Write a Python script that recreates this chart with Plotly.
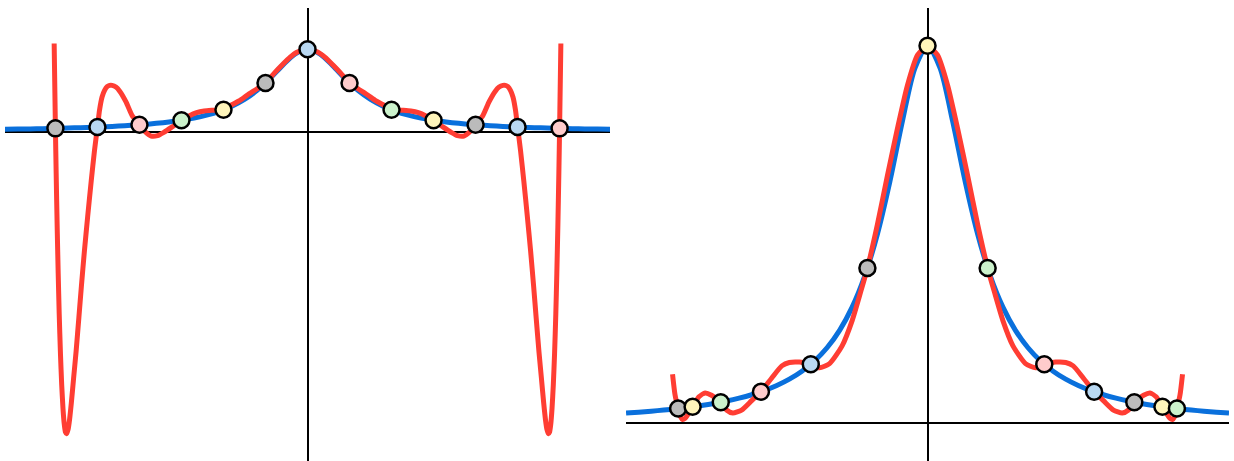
import plotly.graph_objects as go

# Runge function curve (blue)
runge_x = [-1.2, -1.15, -1.1, -1.05, -1.0, -0.95, -0.9, -0.85, -0.8, -0.75, -0.7, -0.65, -0.6,
           -0.55, -0.5, -0.45, -0.4, -0.35, -0.3, -0.25, -0.2, -0.15, -0.1, -0.05, 0.0,
           0.05, 0.1, 0.15, 0.2, 0.25, 0.3, 0.35, 0.4, 0.45, 0.5, 0.55, 0.6, 0.65, 0.7,
           0.75, 0.8, 0.85, 0.9, 0.95, 1.0, 1.05, 1.1, 1.15, 1.2]
runge_y = [0.027, 0.0294, 0.032, 0.035, 0.0385, 0.0424, 0.0471, 0.0525, 0.0588, 0.0664, 0.0755,
           0.0865, 0.1, 0.1168, 0.1379, 0.165, 0.2, 0.2462, 0.3077, 0.39, 0.5, 0.64, 0.8, 0.941,
           1.0, 0.941, 0.8, 0.64, 0.5, 0.39, 0.3077, 0.2462, 0.2, 0.165, 0.1379, 0.1168, 0.1,
           0.0865, 0.0755, 0.0664, 0.0588, 0.0525, 0.0471, 0.0424, 0.0385, 0.035, 0.032, 0.0294, 0.027]

# Left panel: equispaced nodes and interpolant (red)
equi_x = [-1.0, -0.8333, -0.6667, -0.5, -0.3333, -0.1667, 0.0, 0.1667, 0.3333, 0.5, 0.6667, 0.8333, 1.0]
equi_y = [0.0385, 0.0545, 0.0826, 0.1379, 0.2647, 0.5902, 1.0, 0.5902, 0.2647, 0.1379, 0.0826, 0.0545, 0.0385]
equi_colors = ["#bbbbbb", "#b9d8f2", "#ffcccc", "#ccf2cc", "#fff5bb", "#bbbbbb", "#b9d8f2",
               "#ffcccc", "#ccf2cc", "#fff5bb", "#bbbbbb", "#b9d8f2", "#ffcccc"]

equi_poly_x = [-1.005, -1.0, -0.997, -0.993, -0.989, -0.985, -0.98, -0.975, -0.97, -0.965, -0.96, -0.956,
               -0.95, -0.944, -0.937, -0.928, -0.918, -0.907, -0.897, -0.885, -0.872, -0.858, -0.845,
               -0.8333, -0.825, -0.815, -0.805, -0.795, -0.785, -0.775, -0.76, -0.745, -0.72, -0.695,
               -0.6667, -0.645, -0.62, -0.595, -0.57, -0.54, -0.5, -0.47, -0.44, -0.41, -0.38, -0.355,
               -0.3333, -0.3, -0.27, -0.24, -0.2, -0.1667, -0.13, -0.1, -0.07, -0.04, 0.0,
               0.04, 0.07, 0.1, 0.13, 0.1667, 0.2, 0.24, 0.27, 0.3, 0.3333,
               0.355, 0.38, 0.41, 0.44, 0.47, 0.5, 0.54, 0.57, 0.595, 0.62, 0.645, 0.6667,
               0.695, 0.72, 0.745, 0.76, 0.775, 0.785, 0.795, 0.805, 0.815, 0.825, 0.8333,
               0.845, 0.858, 0.872, 0.885, 0.897, 0.907, 0.918, 0.928, 0.937, 0.944, 0.95,
               0.956, 0.96, 0.965, 0.97, 0.975, 0.98, 0.985, 0.989, 0.993, 0.997, 1.0, 1.005]
equi_poly_y = [1.07, 0.04, -0.51, -1.16, -1.72, -2.21, -2.70, -3.08, -3.36, -3.55, -3.65, -3.67,
               -3.62, -3.50, -3.30, -3.00, -2.67, -2.26, -1.88, -1.45, -1.03, -0.60, -0.23,
               0.0545, 0.26, 0.42, 0.50, 0.545, 0.56, 0.56, 0.54, 0.49, 0.36, 0.19,
               0.0826, 0.0, -0.055, -0.05, -0.01, 0.05, 0.138, 0.19, 0.23, 0.25, 0.258, 0.262,
               0.2647, 0.325, 0.375, 0.44, 0.52, 0.59, 0.715, 0.81, 0.9, 0.965, 1.0,
               0.965, 0.9, 0.81, 0.715, 0.59, 0.52, 0.44, 0.375, 0.325, 0.2647,
               0.262, 0.258, 0.25, 0.23, 0.19, 0.138, 0.05, -0.01, -0.05, -0.055, 0.0, 0.0826,
               0.19, 0.36, 0.49, 0.54, 0.56, 0.56, 0.545, 0.50, 0.42, 0.26, 0.0545,
               -0.23, -0.60, -1.03, -1.45, -1.88, -2.26, -2.67, -3.00, -3.30, -3.50, -3.62,
               -3.67, -3.65, -3.55, -3.36, -3.08, -2.70, -2.21, -1.72, -1.16, -0.51, 0.04, 1.07]

# Right panel: Chebyshev nodes and interpolant (red)
cheb_x = [-0.9927, -0.935, -0.823, -0.6631, -0.4647, -0.2393, 0.0, 0.2393, 0.4647, 0.6631, 0.823, 0.935, 0.9927]
cheb_y = [0.039, 0.0437, 0.0558, 0.0834, 0.1563, 0.4112, 1.0, 0.4112, 0.1563, 0.0834, 0.0558, 0.0437, 0.039]
cheb_colors = ["#bbbbbb", "#fff5bb", "#ccf2cc", "#ffcccc", "#b9d8f2", "#bbbbbb", "#fff5bb",
               "#ccf2cc", "#ffcccc", "#b9d8f2", "#bbbbbb", "#fff5bb", "#ccf2cc"]

cheb_poly_x = [-1.015, -1.005, -0.9927, -0.984, -0.975, -0.965, -0.955, -0.935, -0.91, -0.885, -0.86,
               -0.823, -0.80, -0.775, -0.74, -0.70, -0.6631, -0.62, -0.58, -0.55, -0.51, -0.4647,
               -0.43, -0.39, -0.34, -0.30, -0.267, -0.2393, -0.2, -0.16, -0.12, -0.08, -0.04, 0.0,
               0.04, 0.08, 0.12, 0.16, 0.2, 0.2393, 0.267, 0.30, 0.34, 0.39, 0.43,
               0.4647, 0.51, 0.55, 0.58, 0.62, 0.6631, 0.70, 0.74, 0.775, 0.80, 0.823,
               0.86, 0.885, 0.91, 0.935, 0.955, 0.965, 0.975, 0.984, 0.9927, 1.005, 1.015]
cheb_poly_y = [0.13, 0.075, 0.039, 0.018, 0.01, 0.013, 0.022, 0.0437, 0.07, 0.08, 0.074,
               0.0558, 0.035, 0.027, 0.035, 0.06, 0.0834, 0.12, 0.152, 0.161, 0.162, 0.1563,
               0.147, 0.158, 0.205, 0.272, 0.346, 0.4112, 0.525, 0.655, 0.78, 0.895, 0.975, 1.0,
               0.975, 0.895, 0.78, 0.655, 0.525, 0.4112, 0.346, 0.272, 0.205, 0.158, 0.147,
               0.1563, 0.162, 0.161, 0.152, 0.12, 0.0834, 0.06, 0.035, 0.027, 0.035, 0.0558,
               0.074, 0.08, 0.07, 0.0437, 0.022, 0.013, 0.01, 0.018, 0.039, 0.075, 0.13]

BLUE = "#0a70dc"
RED = "#ff3d33"

fig = go.Figure()

def add_panel(xa, ya, poly_x, poly_y, node_x, node_y, node_colors):
    fig.add_trace(go.Scatter(x=runge_x, y=runge_y, mode="lines", xaxis=xa, yaxis=ya,
                             line=dict(color=BLUE, width=5, shape="spline", smoothing=0.8),
                             hoverinfo="skip", showlegend=False))
    fig.add_trace(go.Scatter(x=poly_x, y=poly_y, mode="lines", xaxis=xa, yaxis=ya,
                             line=dict(color=RED, width=5, shape="spline", smoothing=0.6),
                             hoverinfo="skip", showlegend=False))
    fig.add_trace(go.Scatter(x=node_x, y=node_y, mode="markers", xaxis=xa, yaxis=ya,
                             marker=dict(size=16, color=node_colors,
                                         line=dict(color="black", width=2.5)),
                             hoverinfo="skip", showlegend=False, cliponaxis=False))

add_panel("x", "y", equi_poly_x, equi_poly_y, equi_x, equi_y, equi_colors)
add_panel("x2", "y2", cheb_poly_x, cheb_poly_y, cheb_x, cheb_y, cheb_colors)

axis_common = dict(showgrid=False, showticklabels=False, ticks="", showline=False,
                   zeroline=True, zerolinecolor="black", zerolinewidth=2.2, fixedrange=True)

fig.update_layout(
    width=1234, height=461,
    margin=dict(l=5, r=5, t=8, b=0),
    paper_bgcolor="white", plot_bgcolor="white",
    xaxis=dict(domain=[0, 0.4943], range=[-1.2, 1.2], **axis_common),
    yaxis=dict(range=[-4.0, 1.5], **axis_common),
    xaxis2=dict(domain=[0.5074, 1], range=[-1.2, 1.2], anchor="y2", **axis_common),
    yaxis2=dict(range=[-0.1, 1.1], anchor="x2", **axis_common),
    showlegend=False,
)

fig.write_html("out.html", config={"displayModeBar": False},
               post_script="document.body.style.margin='0px';document.body.style.overflow='hidden';")
